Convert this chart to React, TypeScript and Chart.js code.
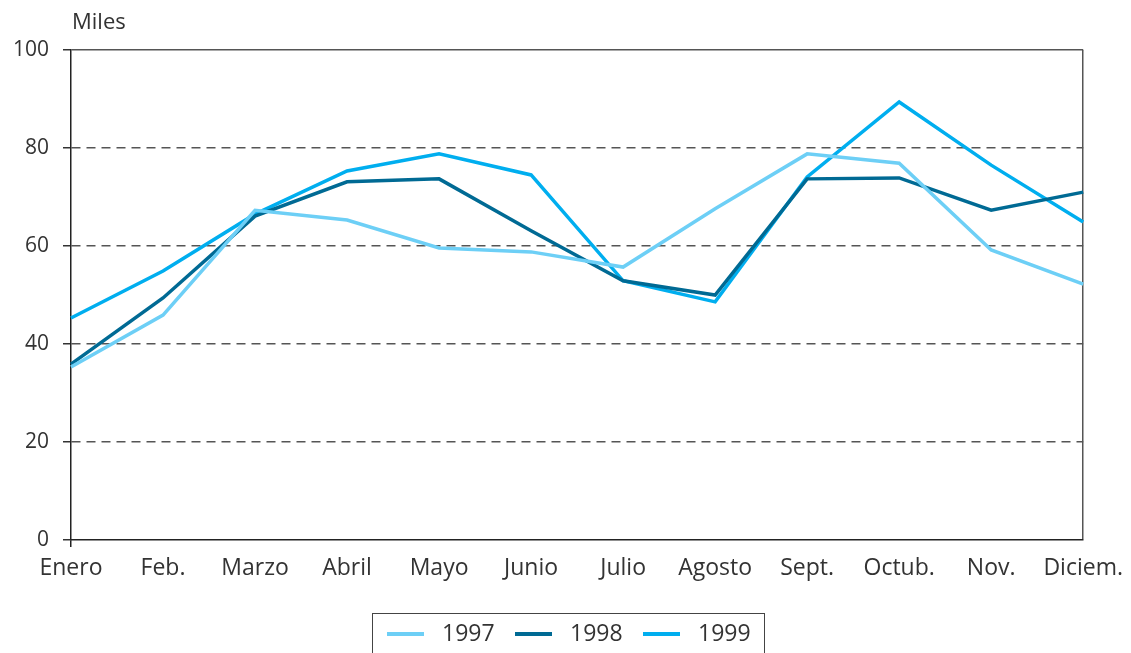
import React, { useEffect, useRef } from "react";
import { Chart, registerables } from "chart.js";

Chart.register(...registerables);

const months = ["Enero", "Feb.", "Marzo", "Abril", "Mayo", "Junio", "Julio", "Agosto", "Sept.", "Octub.", "Nov.", "Diciem."];
const s1997 = [35.3, 45.9, 67.3, 65.3, 59.6, 58.8, 55.7, 67.6, 78.8, 76.9, 59.2, 52.2];
const s1998 = [35.9, 49.4, 66.1, 73.1, 73.7, 63.1, 52.9, 50.0, 73.7, 73.9, 67.3, 71.0];
const s1999 = [45.3, 54.9, 66.5, 75.3, 78.8, 74.5, 52.9, 48.6, 74.1, 89.4, 76.5, 64.9];
const seriesNames = ["1997", "1998", "1999"];
const seriesColors = ["#6DCFF6", "#006A94", "#00AEEF"];
const yTicks = [0, 20, 40, 60, 80, 100];
const unitLabel = "Miles";

const FONT = "'Open Sans', 'DejaVu Sans', sans-serif";

const extrasPlugin = {
  id: "extras",
  afterDraw(chart: any) {
    const ctx = chart.ctx;
    const area = chart.chartArea;
    ctx.save();
    // unit label
    ctx.fillStyle = "#333";
    ctx.font = `22px ${FONT}`;
    ctx.textBaseline = "middle";
    ctx.textAlign = "left";
    ctx.fillText(unitLabel, area.left + 1, 23);

    // legend
    const boxL = 372.5, boxT = 613.5, boxW = 392, boxH = 60;
    ctx.strokeStyle = "#444";
    ctx.lineWidth = 1;
    ctx.strokeRect(boxL, boxT, boxW, boxH);
    ctx.font = `23px ${FONT}`;
    chart.data.datasets.forEach((ds: any, i: number) => {
      const x0 = 387 + i * 128;
      const y = 634;
      ctx.strokeStyle = ds.borderColor;
      ctx.lineWidth = 4;
      ctx.beginPath();
      ctx.moveTo(x0, y);
      ctx.lineTo(x0 + 37, y);
      ctx.stroke();
      ctx.fillStyle = "#333";
      ctx.fillText(ds.label, x0 + 55, y);
    });
    ctx.restore();
  },
};

export default function App() {
  const ref = useRef<HTMLCanvasElement>(null);
  useEffect(() => {
    document.body.style.margin = "0";
    const chart = new Chart(ref.current!, {
      type: "line",
      data: {
        labels: months,
        datasets: [s1997, s1998, s1999].map((d, i) => ({
          label: seriesNames[i],
          data: d,
          borderColor: seriesColors[i],
          backgroundColor: seriesColors[i],
          borderWidth: 3.5,
          pointRadius: 0,
          tension: 0,
          fill: false,
        })),
      },
      options: {
        animation: false,
        responsive: false,
        maintainAspectRatio: false,
        layout: { padding: { top: 50, right: 43, left: 0, bottom: 0 } },
        plugins: {
          legend: { display: false },
          tooltip: { enabled: false },
        },
        scales: {
          x: {
            offset: false,
            afterFit: (s: any) => { s.height = 113; },
            grid: {
              drawTicks: true,
              tickLength: 7,
              lineWidth: 1.5,
              color: (c: any) => (c.index === months.length - 1 ? "#555" : "rgba(0,0,0,0)"),
              tickColor: (c: any) => (c.index === 0 ? "#222" : "rgba(0,0,0,0)"),
            },
            border: { display: true, color: "#222", width: 1.5 },
            ticks: {
              padding: 8,
              color: "#333",
              font: { family: FONT, size: 23 },
              maxRotation: 0,
              autoSkip: false,
            },
          },
          y: {
            min: 0,
            max: 100,
            afterFit: (s: any) => { s.width = 71; },
            afterBuildTicks: (s: any) => { s.ticks = yTicks.map((v) => ({ value: v })); },
            grid: {
              tickLength: 8,
              lineWidth: 1.5,
              color: (c: any) => (c.tick && c.tick.value === 0 ? "rgba(0,0,0,0)" : "#555"),
              tickColor: "#333",
            },
            border: {
              display: true,
              color: "#222",
              width: 1.5,
              dash: (c: any) => (c.tick && (c.tick.value === 0 || c.tick.value === 100) ? [] : [9, 6]),
            },
            ticks: {
              padding: 14,
              color: "#333",
              font: { family: FONT, size: 21 },
            },
          },
        },
      },
      plugins: [extrasPlugin],
    });
    return () => chart.destroy();
  }, []);
  return (
    <div style={{ position: "absolute", left: 0, top: 0, width: 1131, height: 653, background: "#fff" }}>
      <canvas ref={ref} width={1131} height={653} style={{ display: "block" }} />
    </div>
  );
}
